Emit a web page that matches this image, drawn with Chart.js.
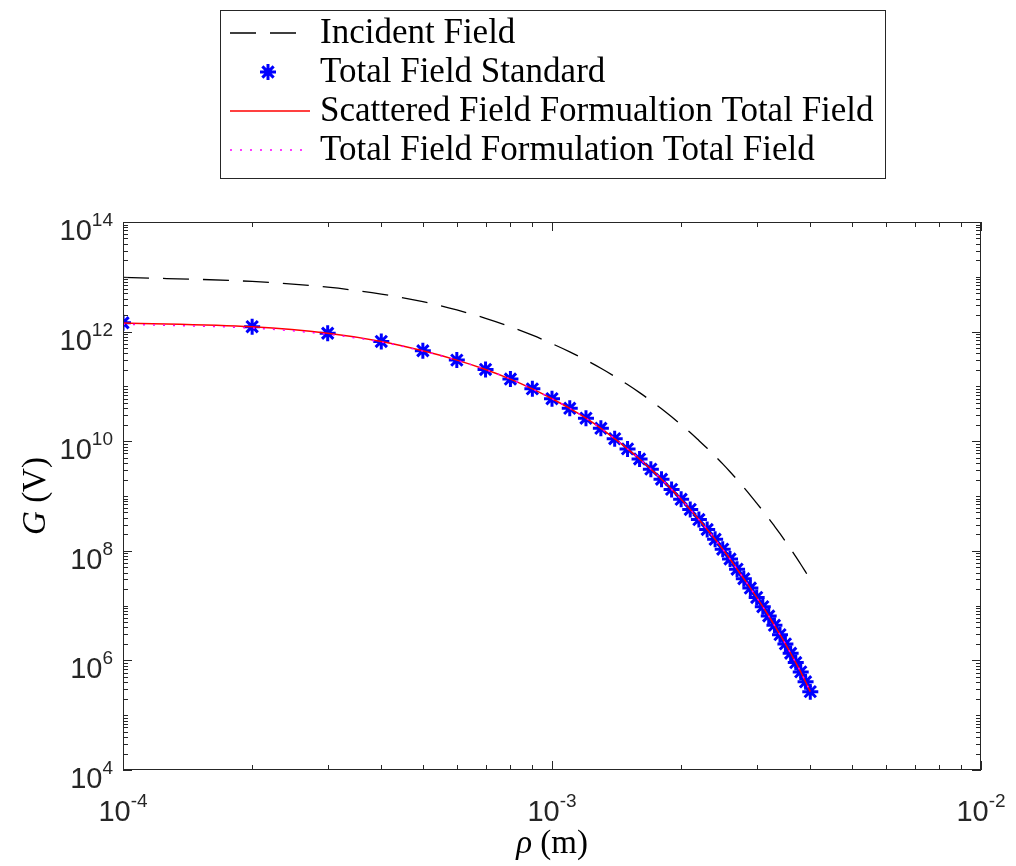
<!DOCTYPE html>
<html>
<head>
<meta charset="utf-8">
<script src="https://cdn.jsdelivr.net/npm/chart.js@4.4.1/dist/chart.umd.min.js"></script>
<style>
  body { margin: 0; background: #fff; }
  #wrap { width: 1016px; height: 866px; }
</style>
</head>
<body>
<div id="wrap"><canvas id="fieldChart"></canvas></div>
<script>
// radial distance (m)
const rho = [
  0.0001, 0.0002, 0.0003, 0.0004, 0.0005, 0.0006, 0.0007, 0.0008, 0.0009, 0.0010,
  0.0011, 0.0012, 0.0013, 0.0014, 0.0015, 0.0016, 0.0017, 0.0018, 0.0019, 0.0020,
  0.0021, 0.0022, 0.0023, 0.0024, 0.0025, 0.0026, 0.0027, 0.0028, 0.0029, 0.0030,
  0.0031, 0.0032, 0.0033, 0.0034, 0.0035, 0.0036, 0.0037, 0.0038, 0.0039, 0.0040
];

const incidentField = [
  9.77e12, 8.22e12, 6.46e12, 4.84e12, 3.51e12, 2.48e12, 1.75e12, 1.23e12, 8.61e11, 6.03e11,
  4.27e11, 3.02e11, 2.14e11, 1.52e11, 1.08e11, 7.69e10, 5.48e10, 3.91e10, 2.79e10, 2.00e10,
  1.44e10, 1.03e10, 7.43e9, 5.35e9, 3.85e9, 2.77e9, 1.99e9, 1.43e9, 1.03e9, 7.41e8,
  5.37e8, 3.90e8, 2.82e8, 2.05e8, 1.49e8, 1.08e8, 7.82e7, 5.68e7, 4.11e7, 2.99e7
];

const totalStandard = [
  1.45e12, 1.23e12, 9.33e11, 6.61e11, 4.47e11, 3.02e11, 2.04e11, 1.36e11, 9.02e10, 5.96e10,
  3.98e10, 2.63e10, 1.72e10, 1.11e10, 7.24e9, 4.73e9, 3.09e9, 2.02e9, 1.32e9, 8.71e8,
  5.69e8, 3.72e8, 2.45e8, 1.62e8, 1.07e8, 7.08e7, 4.62e7, 3.09e7, 2.09e7, 1.41e7,
  9.55e6, 6.46e6, 4.37e6, 2.95e6, 2.00e6, 1.35e6, 9.12e5, 6.17e5, 4.07e5, 2.69e5
];

const scatteredFormTotal = [
  1.44e12, 1.22e12, 9.30e11, 6.60e11, 4.46e11, 3.02e11, 2.04e11, 1.36e11, 9.02e10, 5.96e10,
  3.98e10, 2.63e10, 1.72e10, 1.11e10, 7.24e9, 4.73e9, 3.09e9, 2.02e9, 1.32e9, 8.71e8,
  5.69e8, 3.72e8, 2.45e8, 1.62e8, 1.07e8, 7.08e7, 4.62e7, 3.09e7, 2.09e7, 1.41e7,
  9.55e6, 6.46e6, 4.37e6, 2.95e6, 2.00e6, 1.35e6, 9.12e5, 6.17e5, 4.07e5, 2.69e5
];

const totalFormTotal = [
  1.36e12, 1.16e12, 8.95e11, 6.45e11, 4.40e11, 2.99e11, 2.03e11, 1.36e11, 9.00e10, 5.95e10,
  3.98e10, 2.63e10, 1.72e10, 1.11e10, 7.24e9, 4.73e9, 3.09e9, 2.02e9, 1.32e9, 8.71e8,
  5.69e8, 3.72e8, 2.45e8, 1.62e8, 1.07e8, 7.08e7, 4.62e7, 3.09e7, 2.09e7, 1.41e7,
  9.55e6, 6.46e6, 4.37e6, 2.95e6, 2.00e6, 1.35e6, 9.12e5, 6.17e5, 4.07e5, 2.69e5
];

const seriesNames = [
  "Incident Field",
  "Total Field Standard",
  "Scattered Field Formualtion Total Field",
  "Total Field Formulation Total Field"
];

// decade exponents for the axes
const xDecades = [-4, -3, -2];
const yDecades = [4, 5, 6, 7, 8, 9, 10, 11, 12, 13, 14];
const yLabelled = [4, 6, 8, 10, 12, 14];

const AXIS_COLOR = "#262626";
const SANS = "'Liberation Sans', Arial, sans-serif";
const SERIF = "'Liberation Serif', 'Times New Roman', serif";

const toPoints = vals => vals.map((v, i) => ({ x: rho[i], y: v }));

// draws 10^n with a raised exponent
function drawPower(ctx, exp, x, y, align) {
  ctx.font = "29px " + SANS;
  const wBase = ctx.measureText("10").width;
  ctx.font = "19px " + SANS;
  const wExp = ctx.measureText(exp).width;
  let left = x;
  if (align === "center") left = x - (wBase + wExp) / 2;
  if (align === "right") left = x - (wBase + wExp);
  ctx.textAlign = "left";
  ctx.textBaseline = "alphabetic";
  ctx.fillStyle = AXIS_COLOR;
  ctx.font = "29px " + SANS;
  ctx.fillText("10", left, y);
  ctx.font = "19px " + SANS;
  ctx.fillText(exp, left + wBase, y - 14);
}

// italic symbol followed by upright unit, centred on x
function drawTitle(ctx, sym, unit, x, y) {
  ctx.font = "italic 33px " + SERIF;
  const w1 = ctx.measureText(sym).width;
  ctx.font = "33px " + SERIF;
  const w2 = ctx.measureText(unit).width;
  const left = x - (w1 + w2) / 2;
  ctx.textAlign = "left";
  ctx.font = "italic 33px " + SERIF;
  ctx.fillText(sym, left, y);
  ctx.font = "33px " + SERIF;
  ctx.fillText(unit, left + w1, y);
}

const axesPlugin = {
  id: "matlabAxes",
  afterDraw(chart) {
    const ctx = chart.ctx;
    const a = chart.chartArea;
    const xs = chart.scales.x;
    const ys = chart.scales.y;
    ctx.save();

    // box
    ctx.strokeStyle = AXIS_COLOR;
    ctx.lineWidth = 1;
    ctx.strokeRect(a.left + 0.5, a.top + 0.5, a.right - a.left - 1, a.bottom - a.top - 1);

    // x ticks
    ctx.beginPath();
    xDecades.forEach(d => {
      for (let m = 1; m <= 9; m++) {
        if (d === -2 && m > 1) break;
        const px = Math.round(xs.getPixelForValue(m * Math.pow(10, d))) + 0.5;
        const len = m === 1 ? 9 : 5;
        ctx.moveTo(px, a.bottom); ctx.lineTo(px, a.bottom - len);
        ctx.moveTo(px, a.top); ctx.lineTo(px, a.top + len);
      }
    });
    // y ticks
    yDecades.forEach(d => {
      for (let m = 1; m <= 9; m++) {
        if (d === 14 && m > 1) break;
        const py = Math.round(ys.getPixelForValue(m * Math.pow(10, d))) + 0.5;
        const len = (m === 1 && yLabelled.includes(d)) ? 9 : 5;
        ctx.moveTo(a.left, py); ctx.lineTo(a.left + len, py);
        ctx.moveTo(a.right, py); ctx.lineTo(a.right - len, py);
      }
    });
    ctx.stroke();

    // tick labels
    xDecades.forEach(d => {
      drawPower(ctx, String(d), xs.getPixelForValue(Math.pow(10, d)), a.bottom + 51, "center");
    });
    yLabelled.forEach(d => {
      drawPower(ctx, String(d), a.left - 10, ys.getPixelForValue(Math.pow(10, d)) + 18, "right");
    });

    // axis titles
    ctx.fillStyle = "#000";
    ctx.textBaseline = "alphabetic";
    drawTitle(ctx, "\u03C1", " (m)", (a.left + a.right) / 2, 853);
    ctx.save();
    ctx.translate(45, (a.top + a.bottom) / 2);
    ctx.rotate(-Math.PI / 2);
    drawTitle(ctx, "G", " (V)", 0, 0);
    ctx.restore();

    // legend
    const box = { x: 220, y: 10, w: 665, h: 168 };
    ctx.fillStyle = "#fff";
    ctx.fillRect(box.x, box.y, box.w, box.h);
    ctx.strokeStyle = AXIS_COLOR;
    ctx.lineWidth = 1;
    ctx.strokeRect(box.x + 0.5, box.y + 0.5, box.w, box.h);
    chart.data.datasets.forEach((ds, i) => {
      const yRow = box.y + 23 + i * 39;
      const x0 = box.x + 10, x1 = box.x + 90;
      if (ds.showLine !== false) {
        ctx.save();
        ctx.strokeStyle = ds.borderColor;
        ctx.lineWidth = ds.borderWidth;
        ctx.setLineDash(ds.borderDash || []);
        ctx.beginPath();
        ctx.moveTo(x0, yRow); ctx.lineTo(x1, yRow);
        ctx.stroke();
        ctx.restore();
      } else {
        ctx.strokeStyle = ds.pointBorderColor;
        ctx.fillStyle = ds.pointBorderColor;
        ctx.lineWidth = ds.pointBorderWidth;
        Chart.helpers.drawPoint(ctx, {
          pointStyle: ds.pointStyle, radius: ds.pointRadius, borderWidth: ds.pointBorderWidth, rotation: 0
        }, (x0 + x1) / 2 - 2, yRow);
      }
      ctx.fillStyle = "#000";
      ctx.font = "35px " + SERIF;
      ctx.textAlign = "left";
      ctx.textBaseline = "middle";
      ctx.fillText(seriesNames[i], box.x + 100, yRow + 1);
    });

    ctx.restore();
  }
};

new Chart(document.getElementById("fieldChart"), {
  type: "scatter",
  data: {
    datasets: [
      {
        label: seriesNames[0],
        data: toPoints(incidentField),
        showLine: true,
        borderColor: "#000000",
        borderWidth: 1.3,
        borderDash: [26, 14],
        cubicInterpolationMode: "monotone",
        pointRadius: 0,
        order: 4
      },
      {
        label: seriesNames[1],
        data: toPoints(totalStandard),
        showLine: false,
        pointStyle: "star",
        pointRadius: 8,
        pointBorderWidth: 3,
        pointBorderColor: "#0000ff",
        pointBackgroundColor: "#0000ff",
        order: 3
      },
      {
        label: seriesNames[2],
        data: toPoints(scatteredFormTotal),
        showLine: true,
        borderColor: "#ff0000",
        borderWidth: 1.5,
        cubicInterpolationMode: "monotone",
        pointRadius: 0,
        order: 2
      },
      {
        label: seriesNames[3],
        data: toPoints(totalFormTotal),
        showLine: true,
        borderColor: "#ff00ff",
        borderWidth: 1.5,
        borderDash: [2, 8],
        cubicInterpolationMode: "monotone",
        pointRadius: 0,
        order: 1
      }
    ]
  },
  options: {
    responsive: true,
    maintainAspectRatio: false,
    animation: false,
    layout: { padding: { left: 123, right: 35, top: 222, bottom: 96 } },
    plugins: { legend: { display: false }, tooltip: { enabled: false } },
    scales: {
      x: { type: "logarithmic", min: 1e-4, max: 1e-2, display: false },
      y: { type: "logarithmic", min: 1e4, max: 1e14, display: false }
    }
  },
  plugins: [axesPlugin]
});
</script>
</body>
</html>
